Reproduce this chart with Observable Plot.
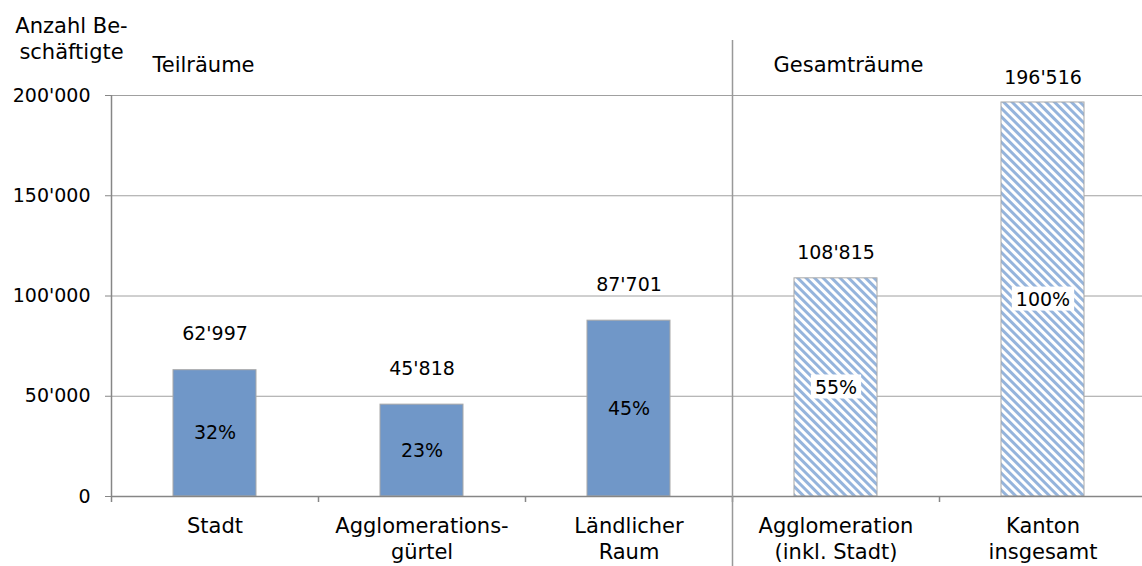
<!DOCTYPE html>
<html>
<head>
<meta charset="utf-8">
<script src="https://cdn.jsdelivr.net/npm/d3@7"></script>
<script src="https://cdn.jsdelivr.net/npm/@observablehq/plot@0.6"></script>
<style>
  html, body { margin: 0; padding: 0; background: #fff; }
  #defs { position: absolute; width: 0; height: 0; }
</style>
</head>
<body>
<svg id="defs" width="0" height="0">
  <defs>
    <pattern id="hatch" patternUnits="userSpaceOnUse" width="6" height="6" patternTransform="rotate(-45)">
      <rect x="0" y="0" width="6" height="6" fill="#ffffff"></rect>
      <rect x="0" y="0" width="3" height="6" fill="#95b4dc"></rect>
    </pattern>
  </defs>
</svg>
<div id="chart"></div>
<script>
// ---- data ----
const categories = ["Stadt", "Agglomerations-\ngürtel", "Ländlicher\nRaum", "Agglomeration\n(inkl. Stadt)", "Kanton\ninsgesamt"];
const values = [62997, 45818, 87701, 108815, 196516];
const shares = ["32%", "23%", "45%", "55%", "100%"];
const hatched = [false, false, false, true, true];
const groupLabels = ["Teilräume", "Gesamträume"];
const groupStart = [0, 3];
const yTicks = [0, 50000, 100000, 150000, 200000];
const yTitle = "Anzahl Be-\nschäftigte";

const fmt = d3.formatLocale({thousands: "'", grouping: [3], decimal: ".", currency: ["", ""]}).format(",");

const data = categories.map((c, i) => ({i, cat: c, value: values[i], share: shares[i], hatched: hatched[i]}));
const solid = data.filter(d => !d.hatched);
const hatch = data.filter(d => d.hatched);
const groups = groupLabels.map((g, k) => ({label: g, start: groupStart[k]}));

const FN = 19;   // numbers
const FT = 21;   // words
const chart = Plot.plot({
  width: 1142,
  height: 566,
  marginLeft: 111,
  marginRight: 0,
  marginTop: 95,
  marginBottom: 70,
  style: {fontFamily: "'DejaVu Sans', Verdana, sans-serif", fontSize: FN + "px", color: "#000", background: "#fff", overflow: "visible"},
  x: {domain: [0, 5], range: [111, 1146], axis: null},
  y: {domain: [0, 200000], axis: null},
  marks: [
    Plot.gridY(yTicks, {stroke: "#a0a0a0", strokeOpacity: 1}),
    Plot.axisY(yTicks, {tickFormat: fmt, tickSize: 6, tickPadding: 15, stroke: "#868686", fontSize: FN, label: null}),
    Plot.rectY(solid, {x1: "i", x2: d => d.i + 1, y: "value", insetLeft: 62, insetRight: 62, fill: "#7097c8", stroke: "#a8a8a8"}),
    Plot.rectY(hatch, {x1: "i", x2: d => d.i + 1, y: "value", insetLeft: 62, insetRight: 62, fill: "url(#hatch)", stroke: "#a8a8a8"}),
    Plot.ruleY([0], {stroke: "#868686", strokeWidth: 1.5}),
    Plot.ruleX([0], {y1: 0, y2: 200000, stroke: "#868686", strokeWidth: 1.5}),
    Plot.ruleX([0, 1, 2, 3, 4], {y1: 0, y2: 0, insetBottom: -6, stroke: "#868686", strokeWidth: 1.5}),
    Plot.ruleX([3], {stroke: "#999", strokeWidth: 1.5, insetTop: -55, insetBottom: -70}),
    Plot.text(solid, {x: d => d.i + 0.5, y: "value", text: d => fmt(d.value), lineAnchor: "middle", dy: -36, fontSize: FN}),
    Plot.text(hatch, {x: d => d.i + 0.5, y: "value", text: d => fmt(d.value), lineAnchor: "middle", dy: -25, fontSize: FN}),
    Plot.text(data, {x: d => d.i + 0.5, y: d => d.value / 2, text: "share", lineAnchor: "middle", fontSize: FN}),
    Plot.text(data, {x: d => d.i + 0.5, frameAnchor: "bottom", text: "cat", lineAnchor: "top", dy: 19, lineHeight: 1.2, fontSize: FT}),
    Plot.text(groups, {x: "start", frameAnchor: "top", text: "label", textAnchor: "start", dx: 41, dy: -30, lineAnchor: "middle", fontSize: FT}),
    Plot.text([yTitle], {frameAnchor: "top-left", text: d => d, textAnchor: "middle", dx: -40, dy: -80, lineAnchor: "top", lineHeight: 1.2, fontSize: FT})
  ]
});
document.getElementById("chart").appendChild(chart);

// white boxes behind the percentage labels on hatched bars
const hatchedShares = hatch.map(d => d.share);
d3.select(chart).selectAll("text").filter(function () {
  return hatchedShares.includes(this.textContent);
}).each(function () {
  const b = this.getBBox();
  const r = document.createElementNS("http://www.w3.org/2000/svg", "rect");
  r.setAttribute("x", b.x - 4);
  r.setAttribute("y", b.y - 1);
  r.setAttribute("width", b.width + 8);
  r.setAttribute("height", b.height + 2);
  r.setAttribute("fill", "#fff");
  const t = this.getAttribute("transform");
  if (t) r.setAttribute("transform", t);
  this.parentNode.insertBefore(r, this);
});
</script>
</body>
</html>
